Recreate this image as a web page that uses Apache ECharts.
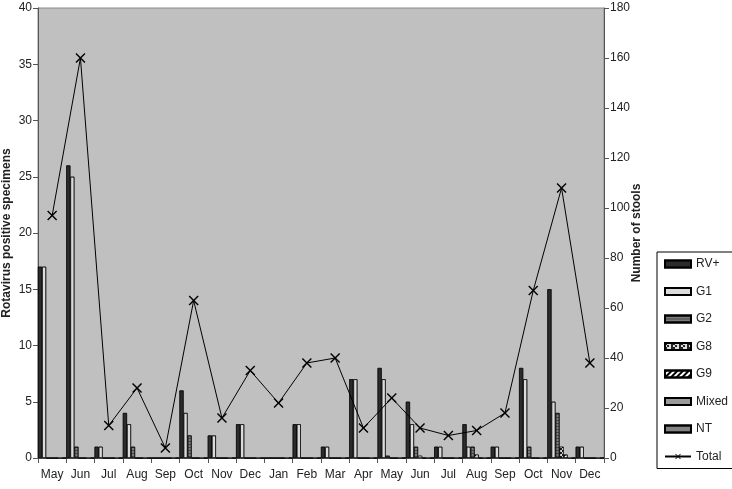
<!DOCTYPE html>
<html>
<head>
<meta charset="utf-8">
<script src="https://cdn.jsdelivr.net/npm/echarts@6/dist/echarts.min.js"></script>
<style>
html,body{margin:0;padding:0;background:#fff;}
#chart{width:732px;height:489px;}
</style>
</head>
<body>
<div id="chart"></div>
<script>
var months = ['May','Jun','Jul','Aug','Sep','Oct','Nov','Dec','Jan','Feb','Mar','Apr','May','Jun','Jul','Aug','Sep','Oct','Nov','Dec'];
var rvPos = [17,26,1,4,0,6,2,3,0,3,1,7,8,5,1,3,1,8,15,1];
var g1    = [17,25,1,3,0,4,2,3,0,3,1,7,7,3,1,1,1,7,5,1];
var g2    = [0,1,0,1,0,2,0,0,0,0,0,0,0.2,1,0,1,0,1,4,0];
var g8    = [0,0,0,0,0,0,0,0,0,0,0,0,0,0.2,0,0.3,0,0,1,0];
var g9    = [0,0,0,0,0,0,0,0,0,0,0,0,0,0,0,0,0,0,0.3,0];
var mixed = [0,0,0,0,0,0,0,0,0,0,0,0,0,0,0,0,0,0,0,0];
var nt    = [0,0,0,0,0,0,0,0,0,0,0,0,0,0,0,0,0,0,0,0];
var total = [97,160,13,28,4,63,16,35,22,38,40,12,24,12,9,11,18,67,108,38];
var leftTicks = {min:0, max:40, interval:5};
var rightTicks = {min:0, max:180, interval:20};

var FONT = 'Liberation Sans';
var chart = echarts.init(document.getElementById('chart'), null, {renderer:'canvas'});

function barSeries(name, data, color, decal){
  var s = {
    name: name, type: 'bar', yAxisIndex: 0, data: data,
    barGap: '0%', barCategoryGap: '0%',
    itemStyle: {color: color, borderColor: '#000', borderWidth: 0.6}
  };
  if (decal) s.itemStyle.decal = decal;
  return s;
}

var xSym = 'path://M0,1L1,0L5,4L9,0L10,1L6,5L10,9L9,10L5,6L1,10L0,9L4,5Z';

var option = {
  animation: false,
  backgroundColor: '#fff',
  textStyle: {fontFamily: FONT},
  grid: {left: 38, right: 128, top: 8, bottom: 31, containLabel: false, outerBoundsMode: 'none',
         show: true, backgroundColor: '#c0c0c0', borderColor: '#888', borderWidth: 1},
  legend: {
    orient: 'vertical', left: 657, top: 252,
    itemWidth: 26, itemHeight: 7, itemGap: 15.5,
    borderColor: '#000', borderWidth: 1, padding: [6, 20, 6, 7],
    textStyle: {fontFamily: FONT, fontSize: 12, color: '#222'},
    data: [
      {name:'RV+', icon:'rect'}, {name:'G1', icon:'rect'}, {name:'G2', icon:'rect'},
      {name:'G8', icon:'rect'}, {name:'G9', icon:'rect'}, {name:'Mixed', icon:'rect'},
      {name:'NT', icon:'rect'}, {name:'Total'}
    ]
  },
  xAxis: {
    type: 'category', data: months, boundaryGap: true,
    axisLine: {lineStyle: {color: '#555'}},
    axisTick: {show: true, lineStyle: {color: '#555'}},
    axisLabel: {color: '#222', fontSize: 12, fontFamily: FONT, margin: 11, interval: 0}
  },
  yAxis: [
    {
      type: 'value', min: leftTicks.min, max: leftTicks.max, interval: leftTicks.interval,
      name: 'Rotavirus positive specimens', nameLocation: 'middle', nameGap: 25, nameRotate: 90,
      nameMoveOverlap: false,
      nameTextStyle: {fontWeight: 'bold', fontSize: 12, color: '#222', fontFamily: FONT},
      axisLine: {show: true, lineStyle: {color: '#555'}},
      axisTick: {show: true, lineStyle: {color: '#555'}},
      splitLine: {show: false},
      axisLabel: {color: '#222', fontSize: 12, fontFamily: FONT, margin: 6}
    },
    {
      type: 'value', min: rightTicks.min, max: rightTicks.max, interval: rightTicks.interval,
      position: 'right',
      name: 'Number of stools', nameLocation: 'middle', nameGap: 27, nameRotate: 90,
      nameMoveOverlap: false,
      nameTextStyle: {fontWeight: 'bold', fontSize: 12, color: '#222', fontFamily: FONT},
      axisLine: {show: true, lineStyle: {color: '#555'}},
      axisTick: {show: true, lineStyle: {color: '#555'}},
      splitLine: {show: false},
      axisLabel: {color: '#222', fontSize: 12, fontFamily: FONT, margin: 6}
    }
  ],
  series: [
    barSeries('RV+', rvPos, '#111', {symbol:'rect', symbolSize:0.5, color:'rgba(255,255,255,0.45)', dashArrayX:[2,0], dashArrayY:[2,0]}),
    barSeries('G1', g1, '#f2f2f2', {symbol:'rect', symbolSize:0.5, color:'rgba(120,120,120,0.7)', dashArrayX:[2,0], dashArrayY:[2,0]}),
    barSeries('G2', g2, '#7a7a7a', {symbol:'rect', symbolSize:1, color:'rgba(40,40,40,0.6)', dashArrayX:[[1,0]], dashArrayY:[1,2]}),
    barSeries('G8', g8, '#222', {symbol:'rect', symbolSize:1, color:'#ddd', dashArrayX:[[2,2],[0,2,2]], dashArrayY:[2,0]}),
    barSeries('G9', g9, '#fff', {symbol:'rect', symbolSize:1, color:'#000', dashArrayX:[[1,0]], dashArrayY:[2,2], rotation:-Math.PI/4}),
    barSeries('Mixed', mixed, '#9a9a9a', null),
    barSeries('NT', nt, '#777', {symbol:'rect', symbolSize:0.5, color:'rgba(200,200,200,0.6)', dashArrayX:[2,0], dashArrayY:[2,0]}),
    {
      name: 'Total', type: 'line', yAxisIndex: 1, data: total,
      symbol: xSym, symbolSize: 10, showSymbol: true,
      lineStyle: {color: '#000', width: 1},
      itemStyle: {color: '#000'},
      z: 5
    }
  ]
};
chart.setOption(option);
</script>
</body>
</html>
